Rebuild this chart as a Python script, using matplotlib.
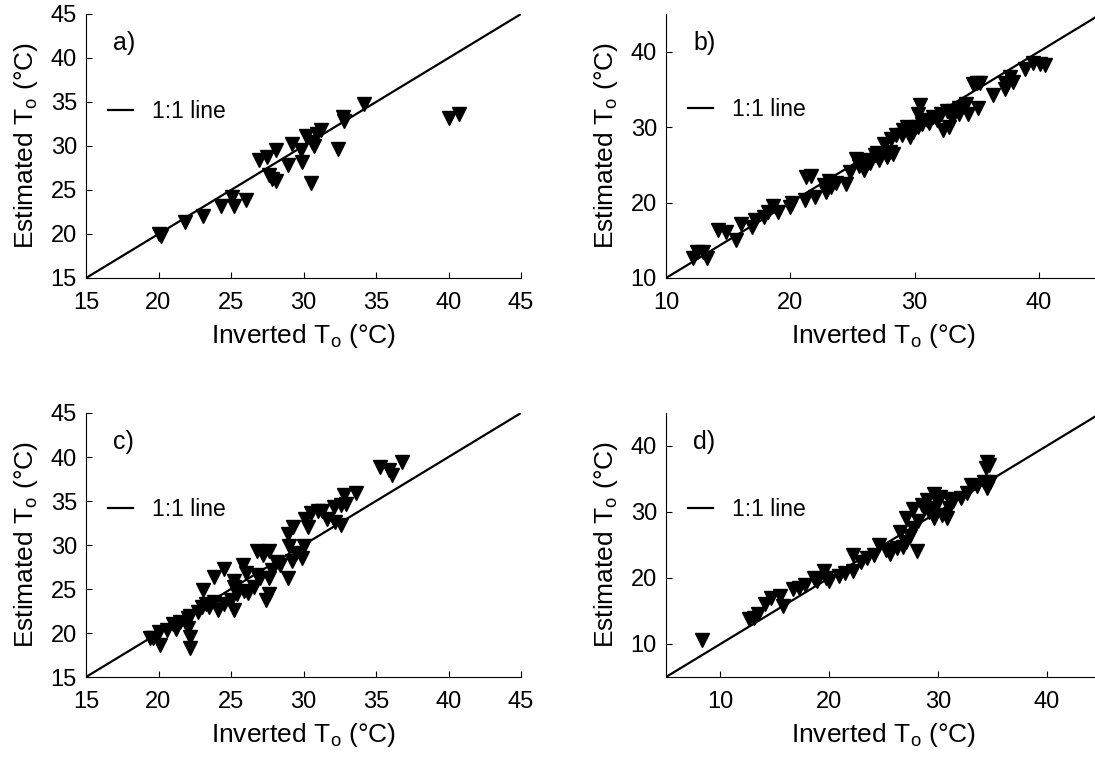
import numpy as np
import matplotlib.pyplot as plt

plt.rcParams['font.family'] = ['Liberation Sans', 'DejaVu Sans']
plt.rcParams['mathtext.fontset'] = 'custom'
plt.rcParams['mathtext.rm'] = 'Liberation Sans'

# panel a) inverted vs estimated To
a_inv = [20.0, 20.2, 21.8, 23.1, 24.3, 25.1, 25.2, 26.0, 26.9, 27.5, 28.1, 27.6, 27.8, 28.1,
         28.9, 29.2, 29.8, 29.9, 30.5, 30.2, 30.6, 30.9, 31.2, 30.7, 32.4, 32.7, 32.8, 34.2,
         40.0, 40.7]
a_est = [20.0, 19.8, 21.4, 22.0, 23.2, 24.2, 23.2, 23.9, 28.4, 28.8, 29.5, 26.7, 26.2, 26.0,
         27.8, 30.2, 29.5, 28.2, 25.8, 31.1, 30.4, 31.4, 31.8, 30.0, 29.7, 33.3, 32.8, 34.8,
         33.2, 33.6]

# panel b)
b_inv = [12.2, 12.5, 13.0, 13.3, 14.2, 14.8, 15.6, 16.0, 16.9, 17.2, 17.9, 18.2, 18.6, 19.0,
         20.0, 20.1, 21.2, 21.3, 21.7, 22.0, 22.7, 23.1, 23.3, 23.7, 24.5, 22.9, 25.3, 25.6,
         25.9, 26.4, 27.1, 25.5, 27.8, 28.0, 28.3, 27.5, 28.1, 28.5, 29.1, 29.4, 29.6, 29.9,
         30.3, 30.6, 30.4, 30.3, 31.0, 31.5, 32.1, 32.6, 33.1, 33.6, 34.1, 32.3, 32.8, 33.6,
         34.3, 35.1, 34.7, 35.3, 36.3, 37.3, 37.9, 37.3, 37.7, 38.9, 39.5, 40.1, 40.5, 35.0,
         26.2, 27.0, 29.0, 31.2, 31.8, 33.0, 24.8, 26.8]
b_est = [12.7, 13.5, 13.5, 12.7, 16.3, 16.1, 15.0, 17.2, 16.8, 17.7, 18.1, 18.7, 19.6, 18.7,
         19.4, 20.0, 20.3, 23.4, 23.5, 20.8, 22.3, 22.9, 22.0, 22.6, 22.4, 21.4, 25.8, 25.2,
         24.3, 25.2, 25.6, 24.8, 26.0, 26.7, 26.5, 27.8, 28.4, 28.9, 29.6, 30.0, 28.7, 29.3,
         30.0, 30.4, 32.9, 31.8, 30.9, 31.4, 31.8, 32.2, 32.2, 32.6, 33.1, 29.6, 30.0, 31.8,
         31.8, 32.6, 35.7, 35.9, 34.2, 35.1, 36.0, 35.9, 36.6, 37.7, 38.5, 38.4, 38.3, 35.9,
         25.6, 26.6, 28.9, 30.5, 31.0, 31.2, 24.0, 26.3]

# panel c)
c_inv = [19.4, 20.1, 20.0, 20.6, 21.0, 21.5, 22.0, 22.2, 22.0, 22.2, 22.2, 19.6, 22.7, 23.0,
         23.3, 23.8, 24.1, 24.5, 23.1, 23.8, 24.5, 25.2, 25.0, 25.4, 25.9, 25.2, 25.8, 25.2,
         26.2, 26.6, 26.8, 27.0, 26.8, 27.2, 27.6, 27.4, 27.6, 27.8, 27.6, 28.1, 28.4, 28.9,
         28.9, 29.3, 29.0, 29.5, 29.9, 30.0, 30.1, 30.5, 31.0, 31.3, 30.3, 31.6, 32.2, 32.6,
         32.1, 32.6, 32.9, 32.8, 33.6, 35.3, 35.9, 36.1, 36.8, 21.2, 23.5, 26.0, 29.2]
c_est = [19.4, 18.6, 20.1, 20.3, 21.0, 21.2, 21.7, 21.9, 20.6, 19.5, 18.3, 19.4, 22.4, 22.9,
         23.3, 23.5, 22.6, 23.3, 24.9, 26.4, 27.3, 22.6, 23.7, 24.4, 24.8, 25.2, 27.7, 25.9,
         24.6, 25.2, 26.6, 26.3, 29.3, 28.9, 29.3, 23.7, 24.4, 27.2, 26.3, 28.1, 27.7, 26.3,
         31.3, 32.0, 29.9, 29.1, 28.5, 29.9, 33.0, 33.6, 33.9, 33.9, 32.1, 33.0, 32.6, 32.3,
         34.3, 34.5, 34.7, 35.7, 35.9, 38.9, 38.5, 38.0, 39.4, 20.5, 23.0, 26.8, 28.2]

# panel d)
d_inv = [8.3, 12.6, 13.1, 13.5, 14.1, 14.7, 15.5, 15.8, 16.7, 17.2, 17.8, 18.6, 18.9, 19.5,
         19.7, 20.0, 20.9, 21.5, 22.2, 22.2, 22.9, 23.5, 24.1, 24.6, 25.2, 25.6, 26.2, 26.8,
         27.1, 27.4, 27.7, 28.2, 28.1, 27.1, 27.7, 28.7, 29.0, 29.6, 30.2, 29.5, 29.6, 30.4,
         31.0, 30.8, 31.4, 32.1, 32.7, 33.0, 33.6, 34.2, 34.5, 34.4, 34.7, 34.5, 34.8, 28.5,
         29.2, 30.0, 31.0, 26.5]
d_est = [10.6, 13.8, 14.0, 14.5, 16.0, 16.9, 17.2, 15.7, 18.3, 18.5, 19.0, 20.0, 19.5, 21.0,
         20.0, 19.5, 20.3, 20.8, 21.0, 23.5, 22.5, 23.0, 23.5, 25.0, 24.2, 23.7, 24.5, 24.7,
         25.5, 26.4, 27.6, 28.6, 24.1, 29.1, 30.4, 30.6, 31.8, 32.8, 32.3, 30.6, 29.1, 29.6,
         30.6, 29.1, 31.6, 32.1, 32.9, 34.1, 33.9, 34.6, 37.6, 36.6, 37.1, 33.6, 34.6, 31.0,
         30.0, 31.5, 32.0, 27.0]

panels = [
    ('a)', a_inv, a_est, (15, 45), [15, 20, 25, 30, 35, 40, 45], [15, 20, 25, 30, 35, 40, 45], 0.63),
    ('b)', b_inv, b_est, (10, 45), [10, 20, 30, 40], [10, 20, 30, 40], 0.64),
    ('c)', c_inv, c_est, (15, 45), [15, 20, 25, 30, 35, 40, 45], [15, 20, 25, 30, 35, 40, 45], 0.636),
    ('d)', d_inv, d_est, (5, 45), [10, 20, 30, 40], [10, 20, 30, 40], 0.635),
]

fig = plt.figure(figsize=(10.95, 7.57), dpi=100)
W, H = 1095, 757
boxes = [(86, 278), (666, 278), (86, 677), (666, 677)]

for (lab, xi, ye, lim, xt, yt, legy), (left, bottom) in zip(panels, boxes):
    ax = fig.add_axes([left / W, (H - bottom) / H, 435 / W, 264 / H])
    ax.plot(xi, ye, 'v', color='black', markersize=10, linestyle='none')
    ax.plot(lim, lim, '-', color='black', linewidth=1.6, label='1:1 line')
    ax.set_xlim(lim)
    ax.set_ylim(lim)
    ax.set_xticks(xt)
    ax.set_yticks(yt)
    ax.spines['top'].set_visible(False)
    ax.spines['right'].set_visible(False)
    ax.tick_params(direction='in', length=4, labelsize=17)
    ax.tick_params(axis='x', pad=10)
    ax.tick_params(axis='y', pad=6.5)
    ax.set_xlabel('Inverted T$_\\mathrm{o}$ (°C)', fontsize=19, labelpad=6)
    ax.set_ylabel('Estimated T$_\\mathrm{o}$ (°C)', fontsize=19, labelpad=8)
    ax.text(0.062, 0.89, lab, transform=ax.transAxes, fontsize=18, va='center', ha='left')
    ax.legend(loc='center left', bbox_to_anchor=(0.05, legy), frameon=False,
              borderpad=0, borderaxespad=0, handlelength=1.1, handletextpad=0.85,
              fontsize=16.5)

fig.savefig('out.png', dpi=100)
